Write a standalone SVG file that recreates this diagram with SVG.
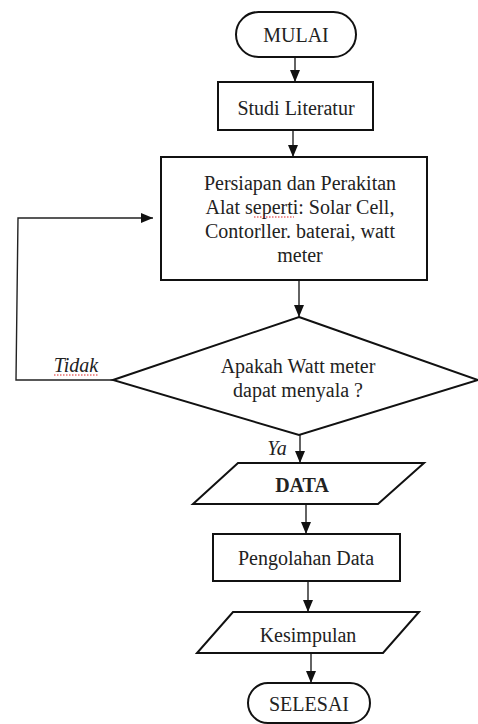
<svg xmlns="http://www.w3.org/2000/svg" width="478" height="724" viewBox="0 0 478 724">
<style>
.shape{fill:#fff;stroke:#111;stroke-width:2}
.conn{fill:none;stroke:#222;stroke-width:1.4}
text{font-family:"Liberation Serif","Times New Roman",serif;font-size:20px;fill:#222;text-anchor:middle}
.it{font-style:italic}
.b{font-weight:bold}
.sp{fill:none;stroke:#d22;stroke-width:1;stroke-dasharray:1.5 1.5}
</style>
<defs>
<marker id="ah" markerUnits="userSpaceOnUse" markerWidth="12" markerHeight="10" refX="12" refY="5" orient="auto">
<path d="M0,0 L12,5 L0,10 z" fill="#111"/>
</marker>
</defs>
<rect width="478" height="724" fill="#fff"/>
<g id="connectors">
<line class="conn" x1="295" y1="57" x2="295" y2="82" marker-end="url(#ah)"/>
<line class="conn" x1="293" y1="130" x2="293" y2="157" marker-end="url(#ah)"/>
<line class="conn" x1="299" y1="280" x2="299" y2="317" marker-end="url(#ah)"/>
<line class="conn" x1="300" y1="435" x2="300" y2="463" marker-end="url(#ah)"/>
<line class="conn" x1="306" y1="504" x2="306" y2="534" marker-end="url(#ah)"/>
<line class="conn" x1="308" y1="581" x2="308" y2="612" marker-end="url(#ah)"/>
<line class="conn" x1="311" y1="653" x2="311" y2="683" marker-end="url(#ah)"/>
<polyline class="conn" points="113,380 16,380 18,218 153,218" marker-end="url(#ah)"/>
<text class="it" x="76" y="372">Tidak</text>
<path class="sp" d="M54,375 L99,375"/>
<text class="it" x="277" y="455">Ya</text>
</g>
<g id="mulai">
<rect class="shape" x="236" y="12" width="120" height="45" rx="22.5"/>
<text x="296" y="42">MULAI</text>
</g>
<g id="studi">
<rect class="shape" x="218" y="82" width="155" height="48"/>
<text x="296" y="115">Studi Literatur</text>
</g>
<g id="persiapan">
<rect class="shape" x="161" y="157" width="266" height="123"/>
<text x="300" y="190">Persiapan dan Perakitan</text>
<text x="300" y="214">Alat seperti: Solar Cell,</text>
<text x="300" y="238">Contorller. baterai, watt</text>
<text x="300" y="262">meter</text>
<path class="sp" d="M254,217 L294,217"/>
</g>
<g id="keputusan">
<polygon class="shape" points="299,317 478,380 299,435 113,380"/>
<text x="298" y="373">Apakah Watt meter</text>
<text x="298" y="397">dapat menyala ?</text>
</g>
<g id="data">
<polygon class="shape" points="238,463 424,463 378,504 193,504"/>
<text class="b" x="302" y="492">DATA</text>
</g>
<g id="pengolahan">
<rect class="shape" x="213" y="534" width="187" height="47"/>
<text x="306" y="565">Pengolahan Data</text>
</g>
<g id="kesimpulan">
<polygon class="shape" points="233,612 419,612 383,653 197,653"/>
<text x="308" y="642">Kesimpulan</text>
</g>
<g id="selesai">
<rect class="shape" x="248" y="683" width="122" height="40" rx="20"/>
<text x="309" y="711">SELESAI</text>
</g>
</svg>
